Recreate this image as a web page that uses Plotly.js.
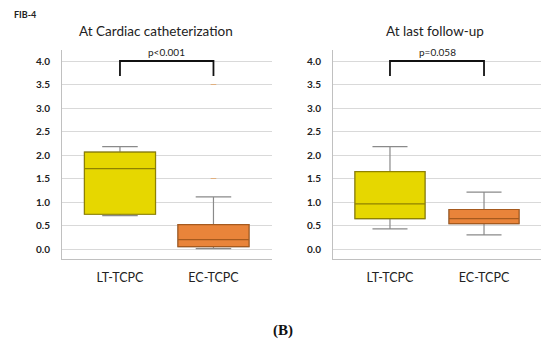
<!DOCTYPE html>
<html>
<head>
<meta charset="utf-8">
<script src="https://cdn.plot.ly/plotly-3.0.1.min.js"></script>
<style>html,body{margin:0;padding:0;background:#fff;}#chart{width:550px;height:347px;}</style>
</head>
<body>
<div id="chart"></div>
<script>
// ---- data ----
const categories = ["LT-TCPC", "EC-TCPC"];
const panelTitles = ["At Cardiac catheterization", "At last follow-up"];
const pValues = ["p<0.001", "p=0.058"];
const yTicks = [0, 0.5, 1, 1.5, 2, 2.5, 3, 3.5, 4];
// stats per panel: [LT, EC]
const cathLower  = [0.71, 0.01];
const cathQ1     = [0.74, 0.05];
const cathMedian = [1.71, 0.20];
const cathQ3     = [2.06, 0.52];
const cathUpper  = [2.18, 1.11];
const cathOutliersEC = [3.5, 1.5];
const fuLower  = [0.43, 0.30];
const fuQ1     = [0.645, 0.54];
const fuMedian = [0.96, 0.645];
const fuQ3     = [1.645, 0.84];
const fuUpper  = [2.18, 1.21];
const bracketTop = 4.0;
const bracketLeg = 3.68;

// ---- styling ----
const fills = ["#E6D700", "#E9843A"];
const outlines = ["#8f8200", "#a65a1e"];
const whiskerColor = "#8a8a8a";
const FONT = "Lato, 'Open Sans', sans-serif";
const W = 550, H = 347;
const px = v => v / W, py = v => (H - v) / H;

const panels = [
  {xa: "x", ya: "y", lower: cathLower, q1: cathQ1, med: cathMedian, q3: cathQ3, up: cathUpper, width: 0.76},
  {xa: "x2", ya: "y2", lower: fuLower, q1: fuQ1, med: fuMedian, q3: fuQ3, up: fuUpper, width: 0.745}
];

const traces = [];
panels.forEach(p => {
  categories.forEach((c, i) => {
    // whiskers (gray)
    traces.push({
      type: "box", x: [i], q1: [p.q1[i]], median: [p.med[i]], q3: [p.q3[i]],
      lowerfence: [p.lower[i]], upperfence: [p.up[i]],
      xaxis: p.xa, yaxis: p.ya, width: p.width, whiskerwidth: 0.5,
      fillcolor: fills[i], line: {color: whiskerColor, width: 1.2},
      boxpoints: false, hoverinfo: "skip", showlegend: false
    });
    // box outline (colored)
    traces.push({
      type: "box", x: [i], q1: [p.q1[i]], median: [p.med[i]], q3: [p.q3[i]],
      lowerfence: [p.q1[i]], upperfence: [p.q3[i]],
      xaxis: p.xa, yaxis: p.ya, width: p.width, whiskerwidth: 0,
      fillcolor: fills[i], line: {color: outlines[i], width: 1.2},
      boxpoints: false, hoverinfo: "skip", showlegend: false
    });
  });
});
traces.push({
  type: "scatter", mode: "markers", x: cathOutliersEC.map(() => 1), y: cathOutliersEC,
  xaxis: "x", yaxis: "y", marker: {symbol: "line-ew", size: 4, line: {color: "#e0b080", width: 1}},
  hoverinfo: "skip", showlegend: false
});

const yAxisBase = {
  range: [-0.219, 4.234], tickvals: yTicks, tickformat: ".1f",
  showgrid: true, gridcolor: "#d9d9d9", gridwidth: 1, zeroline: false,
  showline: true, linecolor: "#c0c0c0", linewidth: 1,
  ticks: "outside", ticklen: 9, tickcolor: "rgba(0,0,0,0)",
  tickfont: {family: FONT, size: 10, color: "#222", weight: "bold"},
  domain: [py(259.3), py(50)], fixedrange: true
};
const xAxisBase = {
  tickvals: [0, 1], ticktext: categories, showgrid: false, zeroline: false,
  showline: true, linecolor: "#c0c0c0", linewidth: 1,
  ticks: "outside", ticklen: 7, tickcolor: "rgba(0,0,0,0)",
  tickfont: {family: FONT, size: 12.5, color: "#222"}, fixedrange: true
};

const layout = {
  width: W, height: H, margin: {l: 0, r: 0, t: 0, b: 0},
  paper_bgcolor: "#fff", plot_bgcolor: "#fff", boxmode: "overlay", showlegend: false,
  xaxis: Object.assign({}, xAxisBase, {domain: [px(62), px(272)], range: [-0.62, 1.626], anchor: "y"}),
  yaxis: Object.assign({}, yAxisBase, {anchor: "x"}),
  xaxis2: Object.assign({}, xAxisBase, {domain: [px(333), px(541)], range: [-0.606, 1.606], anchor: "y2"}),
  yaxis2: Object.assign({}, yAxisBase, {anchor: "x2"}),
  shapes: [], annotations: []
};

// brackets
[["x", "y"], ["x2", "y2"]].forEach(([xa, ya]) => {
  layout.shapes.push({
    type: "path", xref: xa, yref: ya,
    path: `M 0,${bracketLeg} L 0,${bracketTop} L 1,${bracketTop} L 1,${bracketLeg}`,
    line: {color: "#111", width: 1.8}
  });
});

// texts
layout.annotations.push(
  {text: "FIB-4", xref: "paper", yref: "paper", x: px(12), y: py(15), xanchor: "left", yanchor: "middle",
   showarrow: false, font: {family: FONT, size: 9, color: "#222", weight: "bold"}},
  {text: panelTitles[0], xref: "paper", yref: "paper", x: px(156), y: py(31), xanchor: "center", yanchor: "middle",
   showarrow: false, font: {family: FONT, size: 13.5, color: "#222"}},
  {text: panelTitles[1], xref: "paper", yref: "paper", x: px(435), y: py(31), xanchor: "center", yanchor: "middle",
   showarrow: false, font: {family: FONT, size: 13.5, color: "#222"}},
  {text: pValues[0], xref: "x", yref: "paper", x: 0.5, y: py(52), xanchor: "center", yanchor: "middle",
   showarrow: false, font: {family: FONT, size: 10, color: "#222"}},
  {text: pValues[1], xref: "x2", yref: "paper", x: 0.5, y: py(52), xanchor: "center", yanchor: "middle",
   showarrow: false, font: {family: FONT, size: 10, color: "#222"}},
  {text: "(B)", xref: "paper", yref: "paper", x: px(283), y: py(330), xanchor: "center", yanchor: "middle",
   showarrow: false, font: {family: "'Liberation Serif', serif", size: 15, color: "#111", weight: "bold"}}
);

Plotly.newPlot("chart", traces, layout, {staticPlot: true, displayModeBar: false});
</script>
</body>
</html>
